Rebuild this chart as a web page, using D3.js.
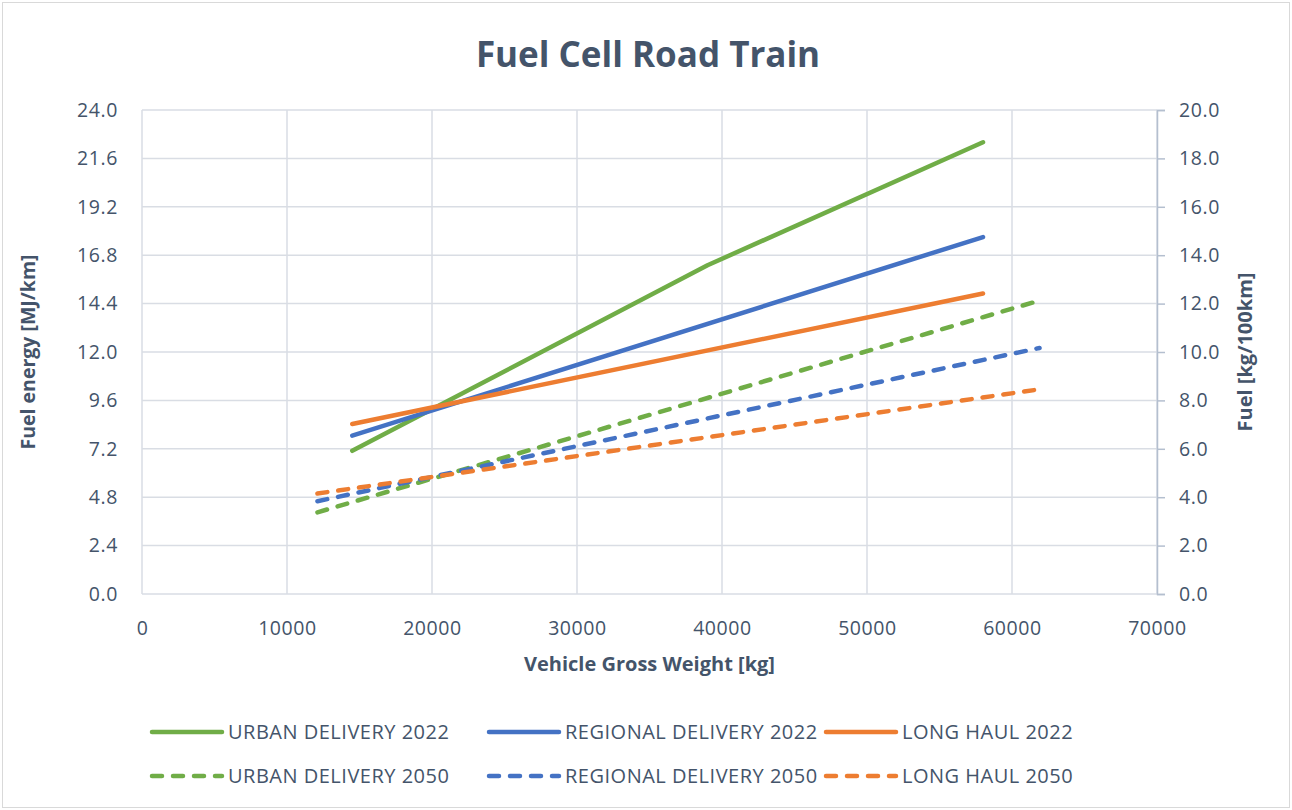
<!DOCTYPE html>
<html>
<head>
<meta charset="utf-8">
<script src="https://cdn.jsdelivr.net/npm/d3@7"></script>
<style>
  body { margin: 0; background: #fff; }
  svg text { font-family: "Open Sans", "Noto Sans", sans-serif; fill: #44546a; }
</style>
</head>
<body>
<div id="chart"></div>
<script>
// series (x = vehicle gross weight kg, y = MJ/km)
const urban2022Weight = [14500, 39000, 58000];
const urban2022Energy = [7.1, 16.3, 22.4];
const regional2022Weight = [14500, 58000];
const regional2022Energy = [7.85, 17.7];
const longHaul2022Weight = [14500, 58000];
const longHaul2022Energy = [8.43, 14.9];
const urban2050Weight = [12100, 61900];
const urban2050Energy = [4.05, 14.55];
const regional2050Weight = [12100, 61900];
const regional2050Energy = [4.6, 12.2];
const longHaul2050Weight = [12100, 61900];
const longHaul2050Energy = [4.98, 10.15];

const seriesNames = ["URBAN DELIVERY 2022", "REGIONAL DELIVERY 2022", "LONG HAUL 2022",
                     "URBAN DELIVERY 2050", "REGIONAL DELIVERY 2050", "LONG HAUL 2050"];
const xTicks = [0, 10000, 20000, 30000, 40000, 50000, 60000, 70000];
const leftTicks = [0, 2.4, 4.8, 7.2, 9.6, 12.0, 14.4, 16.8, 19.2, 21.6, 24.0];
const rightTicks = [0, 2, 4, 6, 8, 10, 12, 14, 16, 18, 20];

const colors = ["#70ad47", "#4472c4", "#ed7d31", "#70ad47", "#4472c4", "#ed7d31"];
const dashed = [false, false, false, true, true, true];

const weights = [urban2022Weight, regional2022Weight, longHaul2022Weight, urban2050Weight, regional2050Weight, longHaul2050Weight];
const energies = [urban2022Energy, regional2022Energy, longHaul2022Energy, urban2050Energy, regional2050Energy, longHaul2050Energy];

const series = seriesNames.map((name, i) => ({
    name,
    color: colors[i],
    dashed: dashed[i],
    values: weights[i].map((w, j) => ({ w, e: energies[i][j] }))
}));

const W = 1292, H = 810;
const margin = { top: 110, right: 135, bottom: 216, left: 142 };
const width = W - margin.left - margin.right;
const height = H - margin.top - margin.bottom;

const svg = d3.select("#chart").append("svg")
    .attr("width", W)
    .attr("height", H);

svg.append("rect")
    .attr("x", 2.5).attr("y", 2.5)
    .attr("width", W - 5).attr("height", H - 5)
    .attr("fill", "#fff")
    .attr("stroke", "#d9d9d9");

const x = d3.scaleLinear().domain([0, 70000]).range([0, width]);
const yLeft = d3.scaleLinear().domain([0, 24]).range([height, 0]);
const yRight = d3.scaleLinear().domain([0, 20]).range([height, 0]);

const g = svg.append("g").attr("transform", `translate(${margin.left},${margin.top})`);

// gridlines
g.append("g")
    .selectAll("line")
    .data(xTicks)
    .join("line")
    .attr("x1", d => x(d)).attr("x2", d => x(d))
    .attr("y1", 0).attr("y2", height)
    .attr("stroke", "#d9dde4").attr("stroke-width", 1.5);

g.append("g")
    .selectAll("line")
    .data(leftTicks)
    .join("line")
    .attr("x1", 0).attr("x2", width)
    .attr("y1", d => yLeft(d)).attr("y2", d => yLeft(d))
    .attr("stroke", "#d9dde4").attr("stroke-width", 1.5);

// axes
const xAxis = g.append("g")
    .attr("transform", `translate(0,${height})`)
    .call(d3.axisBottom(x).tickValues(xTicks).tickFormat(d3.format("d")).tickSize(0).tickPadding(27));
xAxis.select(".domain").remove();

const leftAxis = g.append("g")
    .call(d3.axisLeft(yLeft).tickValues(leftTicks).tickFormat(d3.format(".1f")).tickSize(0).tickPadding(24));
leftAxis.select(".domain").remove();

const rightAxis = g.append("g")
    .attr("transform", `translate(${width},0)`)
    .call(d3.axisRight(yRight).tickValues(rightTicks).tickFormat(d3.format(".1f")).tickSizeInner(8).tickSizeOuter(8).tickPadding(14));
rightAxis.selectAll(".domain, line").attr("stroke", "#b4bfcf").attr("stroke-width", 1.5);

g.selectAll(".tick text")
    .attr("font-size", 19.5)
    .attr("letter-spacing", 0.6)
    .attr("fill", "#44546a");

// lines
const line = d3.line()
    .x(d => x(d.w))
    .y(d => yLeft(d.e));

g.append("g")
    .selectAll("path")
    .data(series)
    .join("path")
    .attr("fill", "none")
    .attr("stroke", d => d.color)
    .attr("stroke-width", 4.5)
    .attr("stroke-linecap", "round")
    .attr("stroke-linejoin", "round")
    .attr("stroke-dasharray", d => d.dashed ? "10,11" : null)
    .attr("d", d => line(d.values));

// titles
svg.append("text")
    .attr("x", 648).attr("y", 67)
    .attr("text-anchor", "middle")
    .attr("font-size", 35)
    .attr("font-weight", "bold")
    .text("Fuel Cell Road Train");

svg.append("text")
    .attr("x", margin.left + width / 2).attr("y", 671)
    .attr("text-anchor", "middle")
    .attr("font-size", 20)
    .attr("font-weight", "bold")
    .text("Vehicle Gross Weight [kg]");

svg.append("text")
    .attr("transform", `translate(35,${margin.top + height / 2}) rotate(-90)`)
    .attr("text-anchor", "middle")
    .attr("font-size", 19.5)
    .attr("font-weight", "bold")
    .text("Fuel energy [MJ/km]");

svg.append("text")
    .attr("transform", `translate(1252,${margin.top + height / 2}) rotate(-90)`)
    .attr("text-anchor", "middle")
    .attr("font-size", 20)
    .attr("font-weight", "bold")
    .text("Fuel [kg/100km]");

// legend
const legendX = [152, 489, 826];
const legendY = [732, 776];
const legend = svg.append("g")
    .selectAll("g")
    .data(series)
    .join("g")
    .attr("transform", (d, i) => `translate(${legendX[i % 3]},${legendY[Math.floor(i / 3)]})`);

legend.append("line")
    .attr("x1", 0).attr("x2", 70)
    .attr("stroke", d => d.color)
    .attr("stroke-width", 4.5)
    .attr("stroke-linecap", "round")
    .attr("stroke-dasharray", d => d.dashed ? "10,11" : null);

legend.append("text")
    .attr("x", 76).attr("dy", "0.35em")
    .attr("font-size", 20)
    .attr("letter-spacing", 0.5)
    .text(d => d.name);
</script>
</body>
</html>
